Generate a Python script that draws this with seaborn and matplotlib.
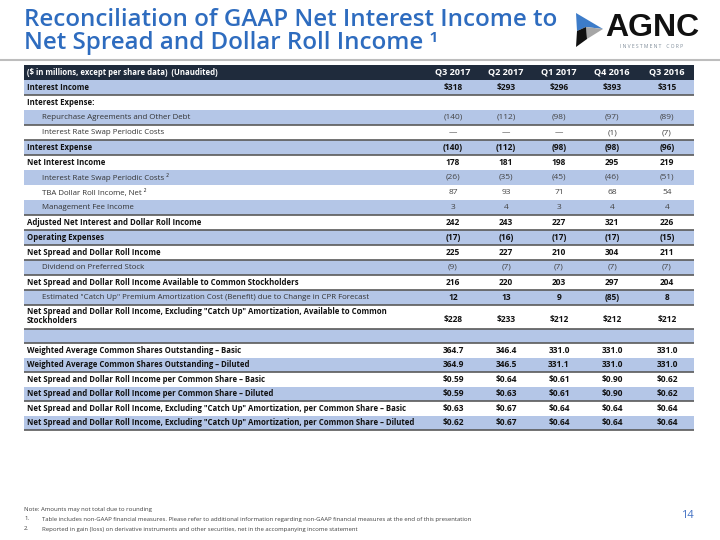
import matplotlib
matplotlib.use("Agg")
import matplotlib.pyplot as plt
import seaborn as sns
from matplotlib.patches import Rectangle, Polygon

sns.set_theme(style="white")
plt.rcParams['font.family'] = ['Open Sans', 'DejaVu Sans']

# ---------------- data ----------------
title_lines = ["Reconciliation of GAAP Net Interest Income to",
               "Net Spread and Dollar Roll Income \u00b9"]
header_label = "($ in millions, except per share data)  (Unaudited)"
periods = ["Q3 2017", "Q2 2017", "Q1 2017", "Q4 2016", "Q3 2016"]

row_labels = [
    "Interest Income",
    "Interest Expense:",
    "Repurchase Agreements and Other Debt",
    "Interest Rate Swap Periodic Costs",
    "Interest Expense",
    "Net Interest Income",
    "Interest Rate Swap Periodic Costs \u00b2",
    "TBA Dollar Roll Income, Net \u00b2",
    "Management Fee Income",
    "Adjusted Net Interest and Dollar Roll Income",
    "Operating Expenses",
    "Net Spread and Dollar Roll Income",
    "Dividend on Preferred Stock",
    "Net Spread and Dollar Roll Income Available to Common Stockholders",
    "Estimated \"Catch Up\" Premium Amortization Cost (Benefit) due to Change in CPR Forecast",
    "Net Spread and Dollar Roll Income, Excluding \"Catch Up\" Amortization, Available to Common\nStockholders",
    "",
    "Weighted Average Common Shares Outstanding \u2013 Basic",
    "Weighted Average Common Shares Outstanding \u2013 Diluted",
    "Net Spread and Dollar Roll Income per Common Share \u2013 Basic",
    "Net Spread and Dollar Roll Income per Common Share \u2013 Diluted",
    "Net Spread and Dollar Roll Income, Excluding \"Catch Up\" Amortization, per Common Share \u2013 Basic",
    "Net Spread and Dollar Roll Income, Excluding \"Catch Up\" Amortization, per Common Share \u2013 Diluted",
]
label_bold = [1, 1, 0, 0, 1, 1, 0, 0, 0, 1, 1, 1, 0, 1, 0, 1, 0, 1, 1, 1, 1, 1, 1]
value_bold = [1, 1, 0, 0, 1, 1, 0, 0, 0, 1, 1, 1, 0, 1, 1, 1, 0, 1, 1, 1, 1, 1, 1]

q3_2017 = ["$318", "", "(140)", "\u2014", "(140)", "178", "(26)", "87", "3", "242", "(17)", "225", "(9)",
           "216", "12", "$228", "", "364.7", "364.9", "$0.59", "$0.59", "$0.63", "$0.62"]
q2_2017 = ["$293", "", "(112)", "\u2014", "(112)", "181", "(35)", "93", "4", "243", "(16)", "227", "(7)",
           "220", "13", "$233", "", "346.4", "346.5", "$0.64", "$0.63", "$0.67", "$0.67"]
q1_2017 = ["$296", "", "(98)", "\u2014", "(98)", "198", "(45)", "71", "3", "227", "(17)", "210", "(7)",
           "203", "9", "$212", "", "331.0", "331.1", "$0.61", "$0.61", "$0.64", "$0.64"]
q4_2016 = ["$393", "", "(97)", "(1)", "(98)", "295", "(46)", "68", "4", "321", "(17)", "304", "(7)",
           "297", "(85)", "$212", "", "331.0", "331.0", "$0.90", "$0.90", "$0.64", "$0.64"]
q3_2016 = ["$315", "", "(89)", "(7)", "(96)", "219", "(51)", "54", "4", "226", "(15)", "211", "(7)",
           "204", "8", "$212", "", "331.0", "331.0", "$0.62", "$0.62", "$0.64", "$0.64"]
columns = [q3_2017, q2_2017, q1_2017, q4_2016, q3_2016]

footnotes = ["Note: Amounts may not total due to rounding",
             "Table includes non-GAAP financial measures. Please refer to additional information regarding non-GAAP financial measures at the end of this presentation",
             "Reported in gain (loss) on derivative instruments and other securities, net in the accompanying income statement"]
page_number = "14"

# ---------------- layout / style ----------------
BLUE_ROW = "#b4c6e7"
HEADER = "#1f2b3c"
LINE = "#5a5a5a"
TITLE_C = "#2e6cbf"
FS_B = 5.6
FS_N = 5.7
FS_V = 6.0

fig = plt.figure(figsize=(7.2, 5.4), dpi=100)
ax = fig.add_axes([0, 0, 1, 1])
ax.set_xlim(0, 720)
ax.set_ylim(540, 0)
ax.axis("off")

# title
ax.text(24, 20, title_lines[0], fontsize=17.4, fontweight="semibold", color=TITLE_C, va="center", ha="left")
ax.text(24, 43, title_lines[1], fontsize=17.4, fontweight="semibold", color=TITLE_C, va="center", ha="left")
ax.plot([0, 720], [60, 60], color="#bdbdbd", lw=1.5, solid_capstyle="butt")

# logo
ax.add_patch(Polygon([(576, 13), (603, 29), (586, 27), (577, 31)], closed=True, color="#3d7cc9", lw=0))
ax.add_patch(Polygon([(586, 27), (603, 29), (587, 39)], closed=True, color="#a6a6a6", lw=0))
ax.add_patch(Polygon([(577, 31), (586, 27), (587, 39), (576, 47)], closed=True, color="#111111", lw=0))
ax.text(652, 28, "AGNC", fontsize=23, fontweight="bold", color="#111111", ha="center", va="center",
        family=["Liberation Sans", "DejaVu Sans"])
ax.text(652, 47, "I N V E S T M E N T    C O R P", fontsize=3.6, color="#7f8c99", ha="center", va="center")

# table geometry
x0, x1 = 24, 694
col_x = [453, 506, 559, 612, 667]
heights = [15] * 16 + [24, 14] + [14.5] * 6   # header + rows
tops = [65]
for h in heights[:-1]:
    tops.append(tops[-1] + h)

# header
ax.add_patch(Rectangle((x0, tops[0]), x1 - x0, heights[0], color=HEADER, lw=0))
yc = tops[0] + heights[0] / 2
ax.text(27, yc, header_label, fontsize=FS_B, fontweight="bold", color="white", ha="left", va="center")
for cx, p in zip(col_x, periods):
    ax.text(cx, yc, p, fontsize=6.6, fontweight="bold", color="white", ha="center", va="center")

dark_after = {0, 2, 3, 4, 8, 9, 10, 11, 12, 13, 14, 15, 16, 18, 20, 22}
for i, lab in enumerate(row_labels):
    top = tops[i + 1]
    h = heights[i + 1]
    if i % 2 == 0:
        ax.add_patch(Rectangle((x0, top), x1 - x0, h, color=BLUE_ROW, lw=0))
    yc = top + h / 2
    bold = label_bold[i]
    xl = 27 if bold else 42
    if "\n" in lab:
        l1, l2 = lab.split("\n")
        ax.text(xl, top + 7, l1, fontsize=FS_B, fontweight="bold", color="#111111", ha="left", va="center")
        ax.text(xl, top + 15.5, l2, fontsize=FS_B, fontweight="bold", color="#111111", ha="left", va="center")
        yv = top + 14
    else:
        ax.text(xl, yc, lab, fontsize=FS_B if bold else FS_N, fontweight="bold" if bold else "normal",
                color="#111111" if bold else "#333333", ha="left", va="center")
        yv = yc
    for cx, col in zip(col_x, columns):
        v = col[i]
        if v:
            vb = value_bold[i]
            ax.text(cx, yv, v, fontsize=FS_V, fontweight="bold" if vb else "normal",
                    color="#111111" if vb else "#444444", ha="center", va="center")
    if i in dark_after:
        yb = top + h
        ax.plot([x0, x1], [yb, yb], color=LINE, lw=1.2, solid_capstyle="butt")

# footnotes
FS_F = 4.3
ax.text(24, 509, footnotes[0], fontsize=FS_F, color="#404040", ha="left", va="center")
ax.text(24, 519, "1.", fontsize=FS_F, color="#404040", ha="left", va="center")
ax.text(42, 519, footnotes[1], fontsize=FS_F, color="#404040", ha="left", va="center")
ax.text(24, 529, "2.", fontsize=FS_F, color="#404040", ha="left", va="center")
ax.text(42, 529, footnotes[2], fontsize=FS_F, color="#404040", ha="left", va="center")
ax.text(694, 516, page_number, fontsize=8, color="#4472c4", ha="right", va="center")

fig.savefig("out.png", dpi=100)
